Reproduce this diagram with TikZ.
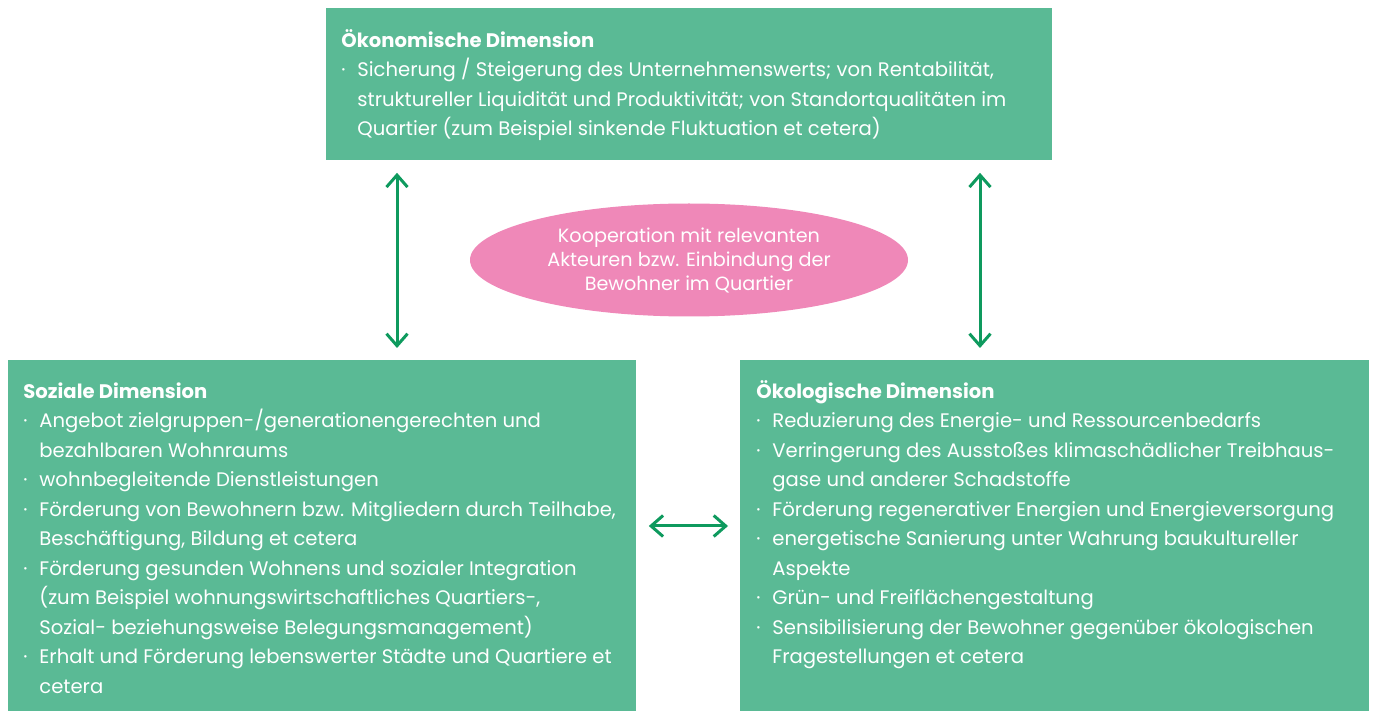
\documentclass[tikz,border=0pt]{standalone}
\usepackage{fontspec}
\setmainfont{Poppins}
\usetikzlibrary{positioning,shapes.geometric,arrows.meta}
\definecolor{boxgreen}{HTML}{5ABA95}
\definecolor{arrowgreen}{HTML}{0E9A5E}
\definecolor{coopPink}{HTML}{EF88B8}
\newcommand{\itm}{\makebox[8pt][l]{·}}
\newcommand{\ind}{\hspace*{8pt}}

\begin{document}
\begin{tikzpicture}[x=0.5pt,y=-0.5pt,
		dimbox/.style={rectangle, fill=boxgreen, inner sep=0pt, anchor=north west},
		dimtext/.style={anchor=north west, inner sep=0pt, align=left, text=white, font=\fontsize{9.8}{14.75}\selectfont},
		twoway/.style={{Straight Barb[length=6pt,width=10.5pt]}-{Straight Barb[length=6pt,width=10.5pt]}, arrowgreen, line width=1.5pt, shorten <=6pt, shorten >=6pt}]
			\useasboundingbox (0,0) rectangle (1373,711);

			% the three dimensions
			\node[dimbox, minimum width=363pt, minimum height=76pt] (oek) at (326,8) {};
			\node[dimbox, minimum width=314pt, minimum height=175.5pt] (soz) at (8,360) {};
			\node[dimbox, minimum width=314.5pt, minimum height=175.5pt] (oeko) at (740,360) {};

			\node[dimtext] (oektext) at (341,29) {\textbf{Ökonomische Dimension}\\
				\itm Sicherung / Steigerung des Unternehmenswerts; von Rentabilität,\\
				\ind struktureller Liquidität und Produktivität; von Standortqualitäten im\\
				\ind Quartier (zum Beispiel sinkende Fluktuation et cetera)};
			\node[dimtext] (soztext) at (23,382) {\textbf{Soziale Dimension}\\
				\itm Angebot zielgruppen-/generationengerechten und\\
				\ind bezahlbaren Wohnraums\\
				\itm wohnbegleitende Dienstleistungen\\
				\itm Förderung von Bewohnern bzw. Mitgliedern durch Teilhabe,\\
				\ind Beschäftigung, Bildung et cetera\\
				\itm Förderung gesunden Wohnens und sozialer Integration\\
				\ind (zum Beispiel wohnungswirtschaftliches Quartiers-,\\
				\ind Sozial- beziehungsweise Belegungsmanagement)\\
				\itm Erhalt und Förderung lebenswerter Städte und Quartiere et\\
				\ind cetera};
			\node[dimtext] (oekotext) at (756,380) {\textbf{Ökologische Dimension}\\
				\itm Reduzierung des Energie- und Ressourcenbedarfs\\
				\itm Verringerung des Ausstoßes klimaschädlicher Treibhaus-\\
				\ind gase und anderer Schadstoffe\\
				\itm Förderung regenerativer Energien und Energieversorgung\\
				\itm energetische Sanierung unter Wahrung baukultureller\\
				\ind Aspekte\\
				\itm Grün- und Freiflächengestaltung\\
				\itm Sensibilisierung der Bewohner gegenüber ökologischen\\
				\ind Fragestellungen et cetera};

			% cooperation in the middle
			\node[ellipse, fill=coopPink, minimum width=219pt, minimum height=56.5pt, inner sep=0pt,
				text=white, align=center, font=\fontsize{9.6}{12}\selectfont] (koop) at (689,260)
				{Kooperation mit relevanten\\Akteuren bzw. Einbindung der\\Bewohner im Quartier};

			% arrows between the dimensions
			\coordinate (xl) at (397,0);
			\coordinate (xr) at (980,0);
			\coordinate (ym) at (0,526);
			\draw[twoway] (oek.south -| xl) -- (soz.north -| xl);
			\draw[twoway] (oek.south -| xr) -- (oeko.north -| xr);
			\draw[twoway] (soz.east |- ym) -- (oeko.west |- ym);

		\end{tikzpicture}
\end{document}
